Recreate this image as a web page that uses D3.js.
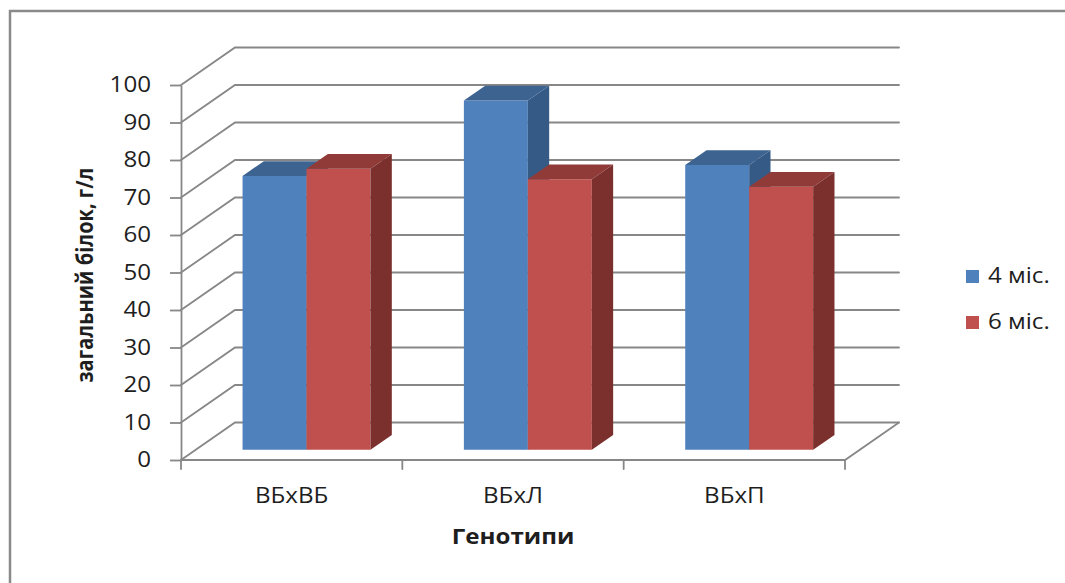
<!DOCTYPE html>
<html>
<head>
<meta charset="utf-8">
<script src="https://cdn.jsdelivr.net/npm/d3@7"></script>
<style>
  html, body { margin: 0; padding: 0; background: #fff; }
  svg { display: block; }
  text { font-family: "Open Sans", "DejaVu Sans", sans-serif; fill: #1e1e1e; }
</style>
</head>
<body>
<svg id="chart" width="1065" height="583"></svg>
<script>
// Total protein by genotype, two ages
const categories = ["ВБхВБ", "ВБхЛ", "ВБхП"];
const seriesNames = ["4 міс.", "6 міс."];
const months4 = [73.0, 93.1, 75.9];
const months6 = [74.9, 72.1, 70.1];
const yTicks = [0, 10, 20, 30, 40, 50, 60, 70, 80, 90, 100];
const yTitle = "загальний білок, г/л";
const xTitle = "Генотипи";

const seriesValues = [months4, months6];
const faceColors = [
  { front: "#4f81bd", top: "#3d6391", side: "#355a86" },
  { front: "#c0504d", top: "#913b38", side: "#7b302e" }
];

const W = 1065, H = 583;
const svg = d3.select("#chart");
const STRETCH = 1.15;          // horizontal widening of the lettering
const FONT = 21;

// Front plane of the 3-D box
const plotLeft = 181, plotRight = 845, plotBottom = 460, plotTop = 85;
// Depth offset from the front plane to the back wall
const DX = 54, DY = 37.5;
// Bars occupy this depth slice
const Z0 = 0.275, Z1 = 0.67;

const x = d3.scaleBand().domain(categories).range([plotLeft, plotRight]);
const xs = d3.scaleBand().domain(seriesNames).range([0, x.bandwidth()])
  .paddingInner(0).paddingOuter(0.73);
const y = d3.scaleLinear().domain([0, 100]).range([plotBottom, plotTop]);

const proj = (xv, v, z) => [xv + z * DX, y(v) - z * DY];
const poly = pts => pts.map(p => p.join(",")).join(" ");

// Outer frame
svg.append("rect")
  .attr("x", 10).attr("y", 11)
  .attr("width", W + 40).attr("height", H + 40)
  .attr("fill", "none").attr("stroke", "#8a8a8a").attr("stroke-width", 2.5);

const gridColor = "#878787";
const grid = svg.append("g").attr("stroke", gridColor).attr("stroke-width", 1.8)
  .attr("fill", "none").attr("stroke-linecap", "round");

// Side wall diagonals and back wall lines
yTicks.forEach(t => {
  const a = proj(plotLeft, t, 0), b = proj(plotLeft, t, 1), c = proj(plotRight, t, 1);
  grid.append("polyline").attr("points", poly([a, b, c]));
});
// Floor front and right edges
grid.append("polyline")
  .attr("points", poly([proj(plotLeft, 0, 0), proj(plotRight, 0, 0), proj(plotRight, 0, 1)]));

// Category boundary ticks
const bounds = categories.map(c => x(c)).concat([x.range()[1]]);
grid.selectAll("line.ctick").data(bounds).join("line")
  .attr("class", "ctick")
  .attr("x1", d => d).attr("x2", d => d)
  .attr("y1", plotBottom).attr("y2", plotBottom + 9);

// Y axis
const yAxis = svg.append("g")
  .attr("transform", `translate(${plotLeft},0)`)
  .call(d3.axisLeft(y).tickValues(yTicks).tickSize(11).tickSizeOuter(0).tickPadding(19));
yAxis.select(".domain").attr("stroke", gridColor).attr("stroke-width", 1.8);
yAxis.selectAll(".tick line").attr("stroke", gridColor).attr("stroke-width", 1.8);
yAxis.selectAll(".tick text")
  .attr("font-family", "'Open Sans', sans-serif")
  .attr("font-size", FONT).attr("fill", "#1e1e1e")
  .attr("x", null)
  .attr("transform", `translate(-30,0) scale(${STRETCH},1)`);

// Bars
categories.forEach((cat, i) => {
  seriesNames.forEach((s, j) => {
    const v = seriesValues[j][i];
    const xl = x(cat) + xs(s), w = xs.bandwidth();
    const col = faceColors[j];
    const g = svg.append("g").attr("class", "bar");
    g.append("polygon").attr("fill", col.front)
      .attr("points", poly([proj(xl, 0, Z0), proj(xl + w, 0, Z0), proj(xl + w, v, Z0), proj(xl, v, Z0)]));
    g.append("polygon").attr("fill", col.top)
      .attr("points", poly([proj(xl, v, Z0), proj(xl + w, v, Z0), proj(xl + w, v, Z1), proj(xl, v, Z1)]));
    g.append("polygon").attr("fill", col.side)
      .attr("points", poly([proj(xl + w, 0, Z0), proj(xl + w, 0, Z1), proj(xl + w, v, Z1), proj(xl + w, v, Z0)]));
  });
});

// Category labels
svg.selectAll("text.cat").data(categories).join("text")
  .attr("class", "cat")
  .attr("text-anchor", "middle")
  .attr("font-size", FONT)
  .attr("transform", d => `translate(${x(d) + x.bandwidth() / 2},503) scale(${STRETCH},1)`)
  .text(d => d);

// Axis titles
svg.append("text")
  .attr("text-anchor", "middle").attr("font-weight", "bold").attr("font-size", FONT)
  .attr("transform", `translate(513,544) scale(${STRETCH},1)`)
  .text(xTitle);

svg.append("text")
  .attr("text-anchor", "middle").attr("font-weight", "bold").attr("font-size", 20)
  .attr("transform", `translate(93,275) scale(${STRETCH},1) rotate(-90)`)
  .text(yTitle);

// Legend
const legend = svg.append("g");
seriesNames.forEach((s, j) => {
  const yy = 270 + j * 46;
  legend.append("rect").attr("x", 966).attr("y", yy)
    .attr("width", 13).attr("height", 13).attr("fill", faceColors[j].front);
  legend.append("text").attr("font-size", FONT)
    .attr("transform", `translate(988,${yy + 13}) scale(${STRETCH},1)`)
    .text(s);
});
</script>
</body>
</html>
